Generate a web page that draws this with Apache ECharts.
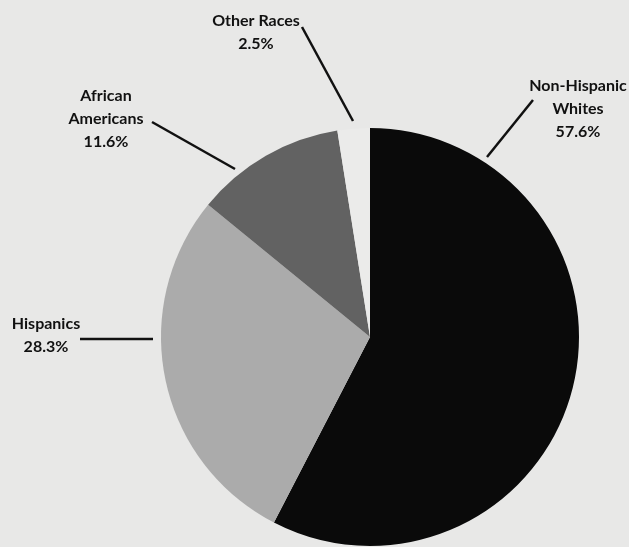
<!DOCTYPE html>
<html>
<head>
<meta charset="utf-8">
<script src="https://cdn.jsdelivr.net/npm/echarts@6/dist/echarts.min.js"></script>
<style>
html,body{margin:0;padding:0;background:#e8e8e7;}
#chart{width:629px;height:547px;}
</style>
</head>
<body>
<div id="chart"></div>
<script>
// ---- data ----
const categories = ['Non-Hispanic Whites', 'Hispanics', 'African Americans', 'Other Races'];
const labelNames = ['Non-Hispanic\nWhites', 'Hispanics', 'African\nAmericans', 'Other Races'];
const shares = [57.6, 28.3, 11.6, 2.5];

// ---- styling / layout ----
const sliceColors = ['#0a0a0a', '#ababab', '#626262', '#ebebea'];
const labelPlacement = {
  'Non-Hispanic Whites': { x: 578, y: 109, line: [[533, 100], [487, 157]] },
  'Hispanics':           { x: 46,  y: 335, line: [[80, 339], [153, 339]] },
  'African Americans':   { x: 106, y: 119, line: [[152, 122], [235, 169]] },
  'Other Races':         { x: 256, y: 32,  line: [[302, 27], [353, 121]] }
};

const chart = echarts.init(document.getElementById('chart'), null, { renderer: 'canvas' });
chart.setOption({
  backgroundColor: '#e8e8e7',
  animation: false,
  series: [{
    type: 'pie',
    center: [370, 337],
    radius: [0, 209],
    startAngle: 90,
    clockwise: true,
    avoidLabelOverlap: false,
    itemStyle: { borderWidth: 0 },
    label: {
      show: true,
      position: 'outside',
      color: '#111',
      fontFamily: 'Lato',
      fontWeight: 'bold',
      fontSize: 16,
      lineHeight: 23,
      align: 'center',
      formatter: p => labelNames[p.dataIndex] + '\n' + p.value.toFixed(1) + '%'
    },
    labelLine: {
      show: true,
      lineStyle: { color: '#111', width: 2.5 }
    },
    labelLayout: function (params) {
      const name = categories[params.dataIndex];
      const pl = labelPlacement[name];
      return {
        x: pl.x,
        y: pl.y,
        align: 'center',
        verticalAlign: 'middle',
        labelLinePoints: pl.line
      };
    },
    data: categories.map((c, i) => ({
      name: c,
      value: shares[i],
      itemStyle: { color: sliceColors[i] }
    }))
  }]
});
</script>
</body>
</html>
